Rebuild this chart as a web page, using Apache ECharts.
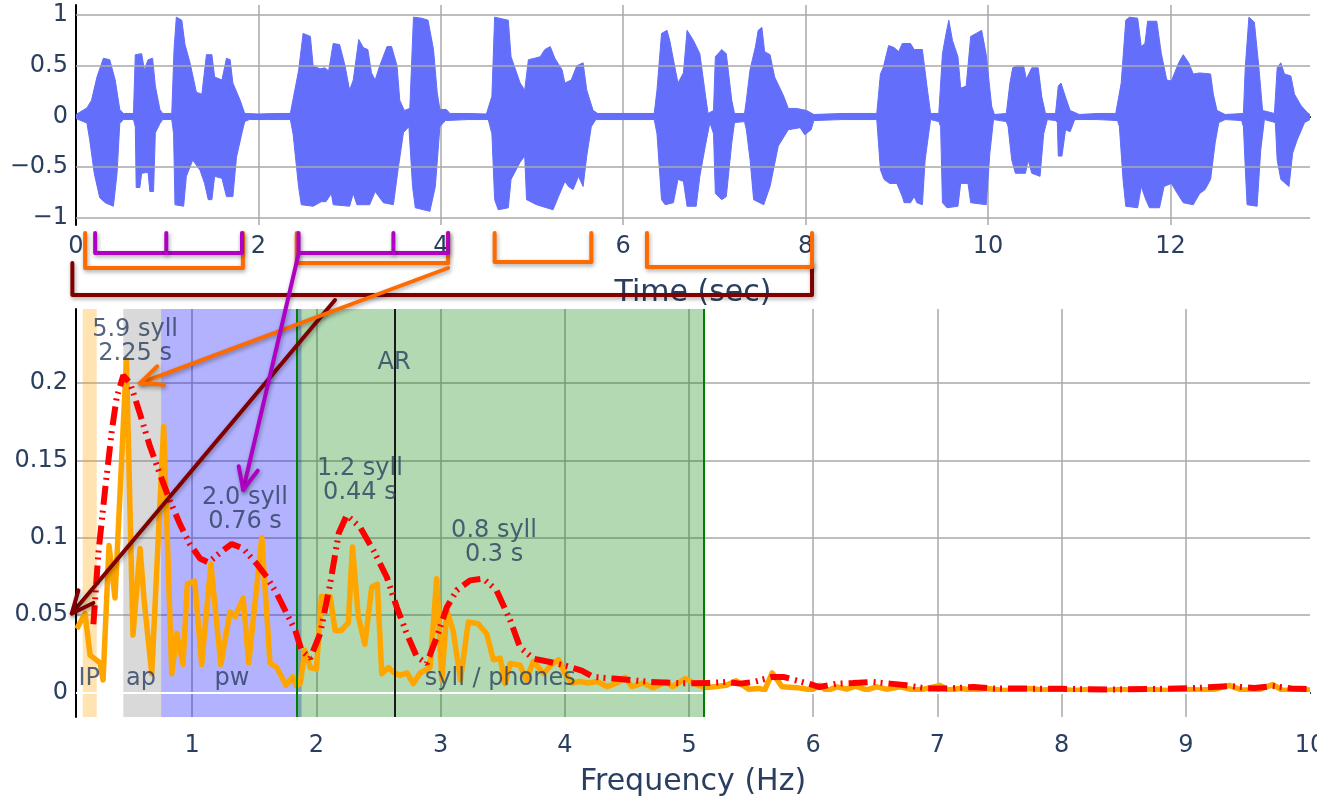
<!DOCTYPE html>
<html><head><meta charset="utf-8">
<script src="https://cdn.jsdelivr.net/npm/echarts@6/dist/echarts.min.js"></script>
<style>html,body{margin:0;padding:0;background:#fff}#c{width:1317px;height:800px}</style>
</head><body><div id="c"></div>
<script>
// ---------- DATA ----------
// waveform envelope (time s, amplitude)
const waveUpper = [[0,0.02],[0.12,0.085],[0.17,0.16],[0.23,0.39],[0.3,0.575],[0.37,0.56],[0.43,0.36],[0.48,0.07],[0.52,0.03],[0.63,0.03],[0.65,0.61],[0.72,0.62],[0.75,0.46],[0.79,0.56],[0.84,0.575],[0.87,0.3],[0.92,0.07],[0.95,0.03],[1.05,0.03],[1.075,0.66],[1.1,0.98],[1.16,0.95],[1.195,0.71],[1.25,0.53],[1.32,0.24],[1.38,0.22],[1.43,0.61],[1.49,0.61],[1.52,0.39],[1.6,0.36],[1.65,0.575],[1.69,0.56],[1.72,0.33],[1.8,0.16],[1.85,0.03],[2.0,0.025],[2.2,0.03],[2.35,0.03],[2.38,0.17],[2.44,0.45],[2.49,0.82],[2.57,0.79],[2.6,0.5],[2.675,0.47],[2.73,0.48],[2.77,0.45],[2.82,0.72],[2.89,0.71],[2.95,0.5],[3.0,0.26],[3.04,0.36],[3.1,0.76],[3.15,0.68],[3.2,0.66],[3.24,0.43],[3.28,0.36],[3.33,0.5],[3.41,0.69],[3.46,0.69],[3.52,0.5],[3.55,0.16],[3.6,0.06],[3.66,0.08],[3.7,0.98],[3.79,0.97],[3.86,0.95],[3.92,0.66],[3.96,0.24],[3.99,0.07],[4.06,0.07],[4.1,0.03],[4.3,0.03],[4.5,0.025],[4.56,0.2],[4.59,0.98],[4.74,0.95],[4.77,0.59],[4.87,0.33],[4.92,0.26],[4.96,0.56],[5.03,0.575],[5.09,0.59],[5.14,0.66],[5.2,0.69],[5.25,0.575],[5.33,0.46],[5.36,0.33],[5.43,0.36],[5.49,0.5],[5.56,0.53],[5.6,0.26],[5.67,0.06],[5.72,0.03],[6.0,0.03],[6.34,0.03],[6.37,0.26],[6.42,0.82],[6.48,0.85],[6.51,0.75],[6.6,0.33],[6.66,0.43],[6.7,0.85],[6.77,0.75],[6.84,0.62],[6.9,0.22],[6.93,0.03],[6.99,0.06],[7.01,0.59],[7.08,0.66],[7.13,0.62],[7.19,0.16],[7.22,0.03],[7.33,0.03],[7.35,0.16],[7.39,0.46],[7.45,0.69],[7.48,0.85],[7.52,0.88],[7.55,0.64],[7.61,0.61],[7.66,0.39],[7.76,0.2],[7.81,0.08],[7.9,0.08],[8.01,0.06],[8.09,0.02],[8.4,0.03],[8.78,0.03],[8.82,0.42],[8.85,0.48],[8.91,0.7],[8.97,0.68],[9.02,0.64],[9.06,0.72],[9.15,0.72],[9.19,0.66],[9.28,0.66],[9.33,0.3],[9.37,0.03],[9.46,0.03],[9.5,0.62],[9.54,0.82],[9.57,0.95],[9.61,0.75],[9.67,0.59],[9.7,0.28],[9.76,0.3],[9.81,0.79],[9.87,0.82],[9.93,0.85],[9.98,0.61],[10.04,0.1],[10.07,0.02],[10.2,0.03],[10.24,0.33],[10.27,0.48],[10.31,0.5],[10.39,0.5],[10.42,0.37],[10.48,0.48],[10.55,0.48],[10.59,0.19],[10.63,0.03],[10.74,0.03],[10.77,0.3],[10.8,0.33],[10.85,0.19],[10.9,0.06],[11.0,0.02],[11.2,0.03],[11.4,0.03],[11.46,0.33],[11.51,0.95],[11.55,0.98],[11.64,0.97],[11.68,0.69],[11.72,0.72],[11.75,0.94],[11.85,0.94],[11.9,0.62],[11.96,0.36],[12.01,0.35],[12.09,0.53],[12.14,0.61],[12.2,0.53],[12.25,0.42],[12.32,0.43],[12.44,0.42],[12.47,0.22],[12.51,0.06],[12.6,0.02],[12.8,0.03],[12.82,0.48],[12.86,0.98],[12.92,0.93],[12.97,0.48],[13.01,0.06],[13.14,0.03],[13.17,0.48],[13.21,0.53],[13.25,0.42],[13.32,0.4],[13.36,0.22],[13.43,0.11],[13.5,0.04],[13.53,0.02]];
const waveLower = [[0,-0.02],[0.12,-0.065],[0.15,-0.23],[0.2,-0.56],[0.26,-0.8],[0.32,-0.85],[0.41,-0.885],[0.45,-0.56],[0.48,-0.07],[0.52,-0.03],[0.63,-0.03],[0.65,-0.1],[0.66,-0.7],[0.7,-0.7],[0.72,-0.56],[0.79,-0.55],[0.81,-0.74],[0.85,-0.74],[0.87,-0.16],[0.92,-0.07],[0.95,-0.03],[1.05,-0.03],[1.07,-0.17],[1.085,-0.87],[1.18,-0.885],[1.21,-0.59],[1.28,-0.43],[1.36,-0.53],[1.41,-0.66],[1.45,-0.82],[1.49,-0.82],[1.52,-0.59],[1.6,-0.61],[1.65,-0.79],[1.72,-0.79],[1.76,-0.4],[1.82,-0.16],[1.85,-0.05],[1.9,-0.03],[2.1,-0.03],[2.35,-0.03],[2.38,-0.17],[2.44,-0.69],[2.47,-0.87],[2.6,-0.885],[2.69,-0.84],[2.74,-0.84],[2.8,-0.76],[2.82,-0.87],[3.0,-0.885],[3.04,-0.76],[3.08,-0.87],[3.22,-0.87],[3.28,-0.74],[3.37,-0.85],[3.48,-0.87],[3.53,-0.53],[3.59,-0.16],[3.65,-0.1],[3.69,-0.69],[3.72,-0.9],[3.88,-0.935],[3.94,-0.69],[3.99,-0.1],[4.05,-0.04],[4.3,-0.03],[4.52,-0.03],[4.56,-0.17],[4.59,-0.82],[4.63,-0.92],[4.74,-0.9],[4.77,-0.62],[4.87,-0.45],[4.92,-0.39],[4.94,-0.82],[5.05,-0.87],[5.23,-0.92],[5.29,-0.79],[5.36,-0.64],[5.4,-0.69],[5.45,-0.72],[5.51,-0.59],[5.56,-0.69],[5.6,-0.39],[5.65,-0.1],[5.7,-0.03],[6.0,-0.03],[6.34,-0.03],[6.37,-0.17],[6.42,-0.82],[6.46,-0.87],[6.55,-0.85],[6.6,-0.62],[6.66,-0.64],[6.7,-0.885],[6.8,-0.885],[6.84,-0.59],[6.9,-0.29],[6.95,-0.06],[6.99,-0.17],[7.01,-0.76],[7.08,-0.82],[7.13,-0.79],[7.19,-0.26],[7.22,-0.06],[7.33,-0.05],[7.35,-0.13],[7.39,-0.42],[7.43,-0.82],[7.54,-0.87],[7.61,-0.69],[7.7,-0.29],[7.81,-0.13],[7.94,-0.11],[7.99,-0.18],[8.06,-0.13],[8.09,-0.04],[8.4,-0.03],[8.78,-0.03],[8.82,-0.525],[8.86,-0.62],[8.92,-0.66],[9.0,-0.66],[9.06,-0.79],[9.08,-0.85],[9.15,-0.85],[9.19,-0.79],[9.22,-0.85],[9.28,-0.87],[9.31,-0.43],[9.37,-0.03],[9.46,-0.05],[9.48,-0.1],[9.5,-0.85],[9.55,-0.9],[9.67,-0.885],[9.7,-0.66],[9.78,-0.66],[9.81,-0.85],[9.98,-0.87],[10.02,-0.36],[10.06,-0.03],[10.2,-0.05],[10.22,-0.1],[10.26,-0.43],[10.3,-0.56],[10.41,-0.56],[10.44,-0.43],[10.48,-0.56],[10.57,-0.59],[10.61,-0.17],[10.65,-0.03],[10.74,-0.04],[10.76,-0.06],[10.77,-0.39],[10.81,-0.39],[10.85,-0.13],[10.9,-0.15],[10.95,-0.03],[11.2,-0.03],[11.42,-0.04],[11.44,-0.1],[11.48,-0.62],[11.51,-0.885],[11.64,-0.9],[11.68,-0.69],[11.73,-0.82],[11.77,-0.9],[11.88,-0.9],[11.93,-0.69],[12.01,-0.66],[12.09,-0.78],[12.14,-0.85],[12.25,-0.87],[12.32,-0.76],[12.38,-0.72],[12.44,-0.62],[12.49,-0.26],[12.53,-0.06],[12.6,-0.03],[12.78,-0.04],[12.8,-0.1],[12.82,-0.5],[12.84,-0.87],[12.95,-0.885],[12.99,-0.33],[13.03,-0.03],[13.15,-0.06],[13.17,-0.43],[13.21,-0.62],[13.3,-0.69],[13.34,-0.36],[13.39,-0.23],[13.47,-0.06],[13.53,-0.03]];
const waveGridValues = [-1, -0.5, 0.5, 1];

// envelope spectrum (frequency Hz, power)
const spectrum = [[0.07,0.041],[0.137,0.051],[0.177,0.024],[0.258,0.019],[0.282,0.008],[0.33,0.095],[0.378,0.061],[0.47,0.215],[0.523,0.037],[0.58,0.093],[0.612,0.06],[0.674,0.012],[0.77,0.172],[0.835,0.012],[0.875,0.038],[0.926,0.018],[0.96,0.07],[1.02,0.072],[1.076,0.018],[1.15,0.083],[1.23,0.018],[1.304,0.052],[1.345,0.049],[1.41,0.061],[1.455,0.019],[1.56,0.1],[1.626,0.019],[1.68,0.016],[1.755,0.0045],[1.81,0.01],[1.84,0.004],[1.87,0.006],[1.908,0.027],[1.95,0.016],[2.0,0.015],[2.04,0.062],[2.11,0.062],[2.15,0.04],[2.2,0.04],[2.257,0.045],[2.29,0.094],[2.337,0.049],[2.39,0.031],[2.445,0.068],[2.49,0.07],[2.526,0.012],[2.58,0.016],[2.62,0.013],[2.67,0.011],[2.73,0.0125],[2.78,0.0056],[2.834,0.0125],[2.915,0.016],[2.968,0.0735],[3.01,0.008],[3.05,0.053],[3.1,0.04],[3.16,0.008],[3.223,0.0455],[3.3,0.0444],[3.37,0.038],[3.425,0.021],[3.48,0.022],[3.52,0.0056],[3.56,0.0186],[3.64,0.0175],[3.69,0.008],[3.746,0.02],[3.83,0.012],[3.894,0.018],[3.95,0.021],[4.0,0.0125],[4.055,0.006],[4.12,0.007],[4.19,0.006],[4.26,0.007],[4.34,0.0037],[4.42,0.006],[4.485,0.0097],[4.54,0.0037],[4.63,0.006],[4.71,0.003],[4.81,0.0067],[4.87,0.0037],[4.97,0.0088],[5.06,0.005],[5.14,0.003],[5.22,0.0037],[5.3,0.0045],[5.38,0.0075],[5.48,0.002],[5.56,0.0025],[5.61,0.0015],[5.67,0.0125],[5.75,0.0035],[5.87,0.003],[5.99,0.0015],[6.05,0.0045],[6.11,0.001],[6.19,0.0035],[6.27,0.002],[6.34,0.004],[6.43,0.0015],[6.51,0.0035],[6.59,0.002],[6.7,0.0035],[6.81,0.0015],[6.89,0.002],[7.02,0.0045],[7.09,0.0015],[7.18,0.0025],[7.29,0.0015],[7.4,0.0025],[7.53,0.0012],[7.66,0.0015],[7.74,0.0025],[7.85,0.0015],[7.97,0.002],[8.1,0.0012],[8.22,0.0018],[8.35,0.0012],[8.48,0.0018],[8.6,0.0012],[8.72,0.0018],[8.85,0.0012],[8.98,0.002],[9.1,0.0015],[9.22,0.0018],[9.35,0.0045],[9.45,0.0015],[9.58,0.0015],[9.7,0.005],[9.78,0.0012],[9.9,0.0018],[10.0,0.0015]];
const smoothSpectrum = [[0.204,0.044],[0.244,0.09],[0.298,0.131],[0.352,0.169],[0.392,0.191],[0.445,0.205],[0.5,0.2],[0.58,0.18],[0.66,0.159],[0.74,0.141],[0.82,0.124],[0.9,0.109],[0.98,0.096],[1.063,0.0865],[1.13,0.084],[1.22,0.09],[1.318,0.096],[1.41,0.093],[1.52,0.083],[1.6,0.0746],[1.68,0.064],[1.76,0.051],[1.83,0.04],[1.88,0.027],[1.95,0.022],[2.03,0.038],[2.11,0.07],[2.18,0.103],[2.244,0.1145],[2.35,0.107],[2.458,0.092],[2.566,0.0746],[2.647,0.055],[2.727,0.038],[2.808,0.023],[2.888,0.0186],[2.97,0.036],[3.05,0.055],[3.13,0.066],[3.237,0.0724],[3.344,0.0735],[3.45,0.066],[3.56,0.0466],[3.64,0.029],[3.746,0.0218],[3.88,0.0196],[4.015,0.0170],[4.136,0.014],[4.23,0.0099],[4.39,0.0089],[4.686,0.0067],[4.93,0.0058],[5.17,0.006],[5.3,0.0067],[5.41,0.0056],[5.52,0.0067],[5.67,0.0099],[5.76,0.0099],[5.85,0.008],[5.96,0.0056],[6.05,0.0034],[6.19,0.0056],[6.32,0.006],[6.48,0.0067],[6.62,0.0056],[6.75,0.0045],[6.91,0.0024],[7.07,0.0024],[7.29,0.0034],[7.45,0.0024],[7.66,0.0024],[8.0,0.0022],[8.4,0.0018],[8.8,0.0022],[9.1,0.0028],[9.35,0.004],[9.55,0.0028],[9.7,0.004],[9.85,0.0025],[10.0,0.002]];

// frequency bands (Hz)
const bands = [
  {name: 'IP', from: 0.118, to: 0.231},
  {name: 'ap', from: 0.445, to: 0.749},
  {name: 'pw', from: 0.749, to: 1.88},
  {name: 'syll / phones', from: 1.836, to: 5.115}
];
const bandEdges = [1.836, 5.115];
const arFreq = 2.625;
// text annotations: [text, freq, value]
const annotations = [
  ['IP', 0.17, 0.009], ['ap', 0.588, 0.009], ['pw', 1.32, 0.009], ['syll / phones', 3.48, 0.009],
  ['AR', 2.625, 0.213],
  ['5.9 syll\n2.25 s', 0.54, 0.227], ['2.0 syll\n0.76 s', 1.425, 0.118],
  ['1.2 syll\n0.44 s', 2.35, 0.137], ['0.8 syll\n0.3 s', 3.43, 0.0965]
];
// brackets over the time axis: [start s, end s, (mid tick s)]
const purpleBrackets = [[0.21, 1.82, 0.99], [2.44, 4.08, 3.48]];
const orangeBrackets = [[0.10, 1.83], [2.42, 4.08], [4.59, 5.65], [6.26, 8.07]];
const darkredBrackets = [[-0.04, 8.07]];
// arrows: from time (s) on a bracket to [freq, value] in the spectrum
const arrows = [
  {level: 'darkred', fromTime: 2.84, to: [0.03, 0.051]},
  {level: 'orange', fromTime: 4.08, to: [0.58, 0.2]},
  {level: 'purple', fromTime: 2.44, to: [1.41, 0.131]}
];

// ---------- STYLE ----------
const FONT = 'DejaVu Sans';
const TXT = '#2a3f5f';
const GRID = '#a9a9a9';
const bandColors = {'IP': 'rgba(255,165,0,0.3)', 'ap': 'rgba(128,128,128,0.3)', 'pw': 'rgba(0,0,255,0.3)', 'syll / phones': 'rgba(0,128,0,0.3)'};
const levelColors = {purple: '#b000c4', orange: '#ff6a00', darkred: '#800000'};
const minus = v => String(v).replace('-', '\u2212');

const chart = echarts.init(document.getElementById('c'), null, {renderer: 'canvas'});
const option = {
  animation: false,
  backgroundColor: '#fff',
  textStyle: {fontFamily: FONT},
  grid: [
    {left: 76, right: 7, top: 5, height: 220, containLabel: false, outerBoundsMode: 'none'},
    {left: 76, right: 7, top: 309, height: 408, containLabel: false, outerBoundsMode: 'none'}
  ],
  xAxis: [
    {type: 'value', gridIndex: 0, min: 0, max: 13.53, interval: 2,
     name: 'Time (sec)', nameLocation: 'middle', nameGap: 53,
     nameTextStyle: {fontSize: 30, color: TXT, fontFamily: FONT},
     axisLine: {lineStyle: {color: '#000', width: 2}}, axisTick: {show: false},
     axisLabel: {fontSize: 24, color: TXT, margin: 10, showMaxLabel: false, formatter: minus},
     splitLine: {show: true, showMaxLine: false, lineStyle: {color: GRID, width: 1.5}}},
    {type: 'value', gridIndex: 1, min: 0.064, max: 10, splitNumber: 10,
     name: 'Frequency (Hz)', nameLocation: 'middle', nameGap: 50,
     nameTextStyle: {fontSize: 30, color: TXT, fontFamily: FONT},
     axisLine: {lineStyle: {color: '#000', width: 2}}, axisTick: {show: false},
     axisLabel: {fontSize: 24, color: TXT, margin: 17, showMinLabel: false},
     splitLine: {show: true, showMinLine: false, showMaxLine: false, lineStyle: {color: GRID, width: 1.5}}}
  ],
  yAxis: [
    {type: 'value', gridIndex: 0, min: -1.07, max: 1.1,
     axisLine: {show: true, lineStyle: {color: '#000', width: 2}}, axisTick: {show: false},
     axisLabel: {fontSize: 24, color: TXT, margin: 8, showMinLabel: false, showMaxLabel: false, formatter: minus},
     splitLine: {show: false}},
    {type: 'value', gridIndex: 1, min: -0.016, max: 0.248,
     axisLine: {show: true, lineStyle: {color: '#000', width: 2}}, axisTick: {show: false},
     axisLabel: {fontSize: 24, color: TXT, margin: 8, showMinLabel: false, showMaxLabel: false},
     splitLine: {show: true, showMinLine: false, showMaxLine: false, lineStyle: {color: GRID, width: 1.5}}}
  ],
  series: [
    // horizontal gridlines of the waveform panel (below the waveform)
    {type: 'line', xAxisIndex: 0, yAxisIndex: 0, data: [], z: 1, silent: true,
     markLine: {silent: true, symbol: ['none', 'none'], label: {show: false},
       data: waveGridValues.map(v => ({yAxis: v, lineStyle: {color: GRID, width: 1.5, type: 'solid'}}))}},
    {type: 'line', xAxisIndex: 0, yAxisIndex: 0, data: waveUpper, showSymbol: false, z: 2,
     lineStyle: {color: '#636efa', width: 1}, areaStyle: {color: '#636efa', opacity: 1, origin: -0.02}},
    {type: 'line', xAxisIndex: 0, yAxisIndex: 0, data: waveLower, showSymbol: false, z: 2,
     lineStyle: {color: '#636efa', width: 1}, areaStyle: {color: '#636efa', opacity: 1, origin: 0.02}},
    // bands
    {type: 'line', xAxisIndex: 1, yAxisIndex: 1, data: [], z: 1, silent: true,
     markArea: {silent: true, data: bands.map(b => [{xAxis: b.from, itemStyle: {color: bandColors[b.name]}}, {xAxis: b.to}])}},
    // zero line + vertical lines
    {type: 'line', xAxisIndex: 1, yAxisIndex: 1, data: [], z: 2, silent: true,
     markLine: {silent: true, symbol: ['none', 'none'], label: {show: false},
       data: [
         {yAxis: 0, lineStyle: {color: '#fff', width: 2, type: 'solid'}},
         ...bandEdges.map(f => ({xAxis: f, lineStyle: {color: '#008000', width: 2, type: 'solid'}})),
         {xAxis: arFreq, lineStyle: {color: '#1a1a1a', width: 2, type: 'solid'}}
       ]}},
    {type: 'line', xAxisIndex: 1, yAxisIndex: 1, data: spectrum, showSymbol: false, z: 4,
     lineStyle: {color: '#ffa500', width: 5.5, join: 'round'}},
    {type: 'line', xAxisIndex: 1, yAxisIndex: 1, data: smoothSpectrum, showSymbol: false, z: 5,
     lineStyle: {color: '#ff0000', width: 6, type: [19, 6, 2, 5, 2, 6], cap: 'butt'}},
    {type: 'scatter', xAxisIndex: 1, yAxisIndex: 1, z: 10, silent: true, symbolSize: 1,
     itemStyle: {color: 'rgba(0,0,0,0)'},
     data: annotations.map(a => [a[1], a[2], a[0]]),
     label: {show: true, position: 'inside', formatter: p => p.data[2], fontSize: 24, lineHeight: 24,
             color: TXT, fontFamily: FONT, align: 'center', verticalAlign: 'middle'}}
  ]
};
chart.setOption(option);

// ---------- overlay brackets & arrows (positions from the axes) ----------
const tx = t => chart.convertToPixel({xAxisIndex: 0}, t);
const axisBottom = chart.convertToPixel({yAxisIndex: 0}, -1.07);
const depth = {purple: [8, 28], orange: [8, 40], darkred: [38, 70]};
const orangeDepth = [43, 38, 37, 42];
const shadow = {shadowBlur: 4, shadowColor: 'rgba(0,0,0,0.35)', shadowOffsetX: 1, shadowOffsetY: 2};
const els = [];
function poly(points, color, z) {
  els.push({type: 'polyline', z: z || 100, silent: true, shape: {points},
            style: Object.assign({stroke: color, lineWidth: 4, fill: null, lineJoin: 'round', lineCap: 'round'}, shadow)});
}
darkredBrackets.forEach(b => {
  const y1 = axisBottom + depth.darkred[0], y2 = axisBottom + depth.darkred[1];
  poly([[tx(b[0]), y1], [tx(b[0]), y2], [tx(b[1]), y2], [tx(b[1]), y1]], levelColors.darkred);
});
orangeBrackets.forEach((b, i) => {
  const y1 = axisBottom + depth.orange[0], y2 = axisBottom + orangeDepth[i];
  poly([[tx(b[0]), y1], [tx(b[0]), y2], [tx(b[1]), y2], [tx(b[1]), y1]], levelColors.orange);
});
purpleBrackets.forEach(b => {
  const y1 = axisBottom + depth.purple[0], y2 = axisBottom + depth.purple[1];
  poly([[tx(b[0]), y1], [tx(b[0]), y2], [tx(b[1]), y2], [tx(b[1]), y1]], levelColors.purple);
  poly([[tx(b[2]), y1], [tx(b[2]), y2]], levelColors.purple);
});
const arrowStartDepth = {darkred: 75, orange: 43, purple: 29};
arrows.forEach(a => {
  const from = [tx(a.fromTime), axisBottom + arrowStartDepth[a.level]];
  const to = chart.convertToPixel({gridIndex: 1}, a.to);
  const dx = to[0] - from[0], dy = to[1] - from[1], len = Math.hypot(dx, dy);
  const ux = dx / len, uy = dy / len, L = 24, ang = 24 * Math.PI / 180;
  const c = Math.cos(ang), s = Math.sin(ang);
  const b1 = [to[0] - L * (ux * c - uy * s), to[1] - L * (uy * c + ux * s)];
  const b2 = [to[0] - L * (ux * c + uy * s), to[1] - L * (uy * c - ux * s)];
  poly([from, to], levelColors[a.level], 101);
  poly([b1, to, b2], levelColors[a.level], 101);
});
chart.setOption({graphic: els});
</script></body></html>
